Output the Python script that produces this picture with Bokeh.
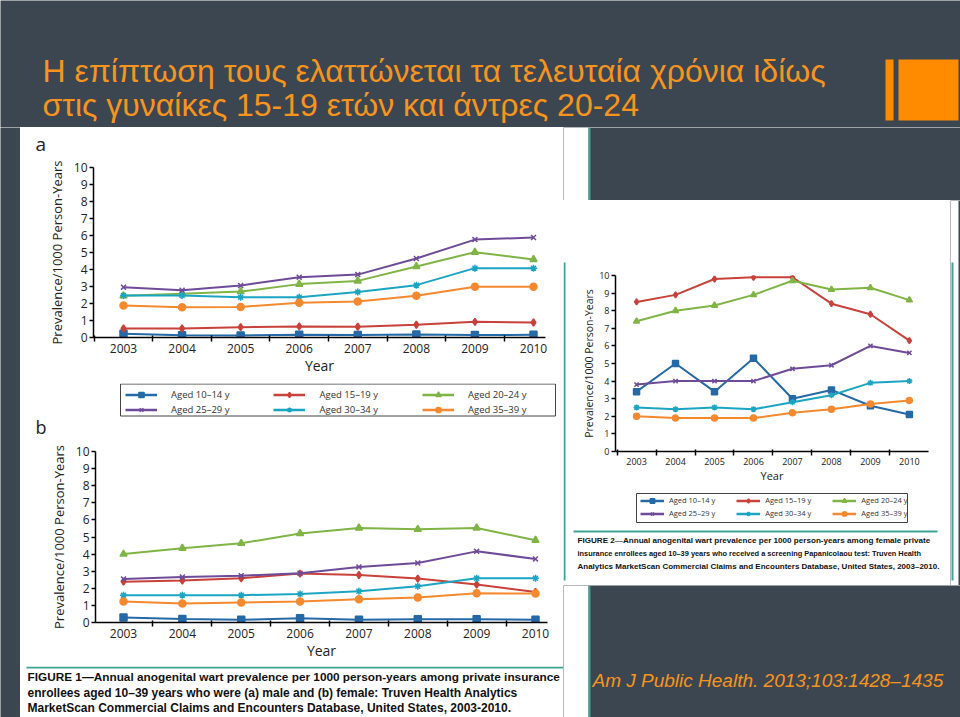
from bokeh.plotting import figure
from bokeh.layouts import row, column
from bokeh.models import FixedTicker, Legend, LegendItem, Range1d
from bokeh.core.properties import value
from bokeh.embed import file_html
from bokeh.resources import INLINE

# ---------------- data ----------------
years = [2003, 2004, 2005, 2006, 2007, 2008, 2009, 2010]
half_years = [2002.5, 2003.5, 2004.5, 2005.5, 2006.5, 2007.5, 2008.5, 2009.5, 2010.5]
y_ticks = [0, 1, 2, 3, 4, 5, 6, 7, 8, 9, 10]
groups = ["Aged 10–14 y", "Aged 15–19 y", "Aged 20–24 y",
          "Aged 25–29 y", "Aged 30–34 y", "Aged 35–39 y"]

# Figure 1a: males
male_10_14 = [0.22, 0.13, 0.12, 0.16, 0.14, 0.18, 0.14, 0.16]
male_15_19 = [0.53, 0.53, 0.61, 0.65, 0.63, 0.75, 0.92, 0.88]
male_20_24 = [2.45, 2.57, 2.70, 3.14, 3.33, 4.18, 5.02, 4.59]
male_25_29 = [2.96, 2.78, 3.06, 3.55, 3.70, 4.65, 5.76, 5.88]
male_30_34 = [2.47, 2.47, 2.37, 2.37, 2.67, 3.08, 4.08, 4.08]
male_35_39 = [1.88, 1.78, 1.80, 2.04, 2.12, 2.45, 2.98, 2.98]

# Figure 1b: females
female_10_14 = [0.29, 0.21, 0.16, 0.25, 0.16, 0.19, 0.19, 0.16]
female_15_19 = [2.39, 2.45, 2.59, 2.86, 2.78, 2.57, 2.22, 1.79]
female_20_24 = [4.00, 4.34, 4.63, 5.21, 5.53, 5.45, 5.53, 4.81]
female_25_29 = [2.55, 2.66, 2.74, 2.88, 3.25, 3.48, 4.16, 3.72]
female_30_34 = [1.60, 1.60, 1.60, 1.67, 1.83, 2.12, 2.59, 2.59]
female_35_39 = [1.23, 1.11, 1.17, 1.23, 1.36, 1.46, 1.71, 1.69]

# Figure 2: females with Pap test
pap_10_14 = [3.4, 5.0, 3.4, 5.3, 3.0, 3.5, 2.6, 2.1]
pap_15_19 = [8.5, 8.9, 9.8, 9.9, 9.9, 8.4, 7.8, 6.3]
pap_20_24 = [7.4, 8.0, 8.3, 8.9, 9.7, 9.2, 9.3, 8.6]
pap_25_29 = [3.8, 4.0, 4.0, 4.0, 4.7, 4.9, 6.0, 5.6]
pap_30_34 = [2.5, 2.4, 2.5, 2.4, 2.8, 3.2, 3.9, 4.0]
pap_35_39 = [2.0, 1.9, 1.9, 1.9, 2.2, 2.4, 2.7, 2.9]

title_lines = ["Η επίπτωση τους ελαττώνεται τα τελευταία χρόνια ιδίως",
               "στις γυναίκες 15-19 ετών και άντρες 20-24"]
caption1 = ["FIGURE 1—Annual anogenital wart prevalence per 1000 person-years among private insurance",
            "enrollees aged 10–39 years who were (a) male and (b) female: Truven Health Analytics",
            "MarketScan Commercial Claims and Encounters Database, United States, 2003-2010."]
caption2 = ["FIGURE 2—Annual anogenital wart prevalence per 1000 person-years among female private",
            "insurance enrollees aged 10–39 years who received a screening Papanicolaou test: Truven Health",
            "Analytics MarketScan Commercial Claims and Encounters Database, United States, 2003–2010."]
citation = "Am J Public Health. 2013;103:1428–1435"
panel_letters = ["a", "b"]

# ---------------- styles ----------------
DARK = "#3C4651"
ORANGE = "#FF8C00"
TITLE_ORANGE = "#F7941D"
TEAL = "#3FA394"
colors = ["#2569A6", "#C8413B", "#80B446", "#6E4B99", "#1BA5C3", "#F4892F"]
markers = ["square", "diamond", "triangle", "x", "asterisk", "circle"]
FONT = "Open Sans"
CAP_FONT = "Liberation Sans"

male = [male_10_14, male_15_19, male_20_24, male_25_29, male_30_34, male_35_39]
female = [female_10_14, female_15_19, female_20_24, female_25_29, female_30_34, female_35_39]
pap = [pap_10_14, pap_15_19, pap_20_24, pap_25_29, pap_30_34, pap_35_39]


def blank(w, h, bg):
    p = figure(width=w, height=h, x_range=Range1d(0, w), y_range=Range1d(h, 0),
               output_backend="svg", toolbar_location=None, min_border=0,
               x_axis_location=None, y_axis_location=None,
               background_fill_color=bg, border_fill_color=bg, outline_line_color=None)
    p.grid.visible = False
    return p


def chart(w, h, xr, borders, series, tick_px, label_px, year_px, msize, lw, ylab_standoff):
    p = figure(width=w, height=h, x_range=Range1d(*xr), y_range=Range1d(0, 10),
               output_backend="svg", toolbar_location=None,
               min_border_left=borders[0], min_border_right=borders[1],
               min_border_top=borders[2], min_border_bottom=borders[3],
               background_fill_color="white", border_fill_color="white",
               outline_line_color=None)
    p.grid.visible = False
    p.xaxis.ticker = FixedTicker(ticks=years, minor_ticks=half_years)
    p.xaxis.major_tick_in = 0
    p.xaxis.major_tick_out = 0
    p.xaxis.minor_tick_in = 2
    p.xaxis.minor_tick_out = 4
    p.xaxis.minor_tick_line_color = "black"
    p.xaxis.minor_tick_line_width = 1.5
    p.yaxis.ticker = FixedTicker(ticks=y_ticks)
    p.yaxis.major_tick_in = 0
    p.yaxis.major_tick_out = 4
    p.yaxis.minor_tick_line_color = None
    p.axis.axis_line_color = "black"
    p.axis.axis_line_width = 1.5
    p.axis.major_tick_line_width = 1.5
    p.axis.major_label_text_font = FONT
    p.axis.major_label_text_font_size = f"{tick_px}px"
    p.axis.major_label_text_color = "#222222"
    p.axis.axis_label_text_font = FONT
    p.axis.axis_label_text_font_style = "normal"
    p.axis.axis_label_text_color = "#222222"
    p.xaxis.axis_label = "Year"
    p.xaxis.axis_label_text_font_size = f"{year_px}px"
    p.xaxis.major_label_standoff = 2
    p.xaxis.axis_label_standoff = 0
    p.yaxis.axis_label = "Prevalence/1000 Person-Years"
    p.yaxis.axis_label_text_font_size = f"{label_px}px"
    p.yaxis.major_label_standoff = 2
    p.yaxis.axis_label_standoff = ylab_standoff
    for vals, col, mk in zip(series, colors, markers):
        p.line(years, vals, line_color=col, line_width=lw)
        p.scatter(years, vals, marker=mk, size=msize, fill_color=col,
                  line_color=col, line_width=1.5)
    return p


def legend_fig(w, h, box, rows_y, x0, gw, lh, sp, st, font_px, msize, series):
    # the series are plotted far outside this strip's visible range; only their
    # legend swatches show
    p = blank(w, h, "white")
    p.quad(left=[box[0]], right=[box[1]], top=[box[2]], bottom=[box[3]],
           fill_color=None, line_color="#444444", line_width=1)
    rends = []
    for vals, col, mk in zip(series, colors, markers):
        ln = p.line(years, vals, line_color=col, line_width=2.5)
        sc = p.scatter(years, vals, marker=mk, size=msize, fill_color=col,
                       line_color=col, line_width=1.5)
        rends.append([ln, sc])
    for r, yb in enumerate(rows_y):
        items = [LegendItem(label=groups[3 * r + i], renderers=rends[3 * r + i])
                 for i in range(3)]
        leg = Legend(items=items, orientation="horizontal", location=(x0, yb),
                     label_text_font=FONT, label_text_font_size=f"{font_px}px",
                     label_text_color="#333333", glyph_width=gw, glyph_height=lh,
                     label_height=lh, label_standoff=st,
                     spacing=sp, padding=0, margin=0, border_line_color=None,
                     background_fill_alpha=0)
        p.add_layout(leg, "center")
    return p


# ---------------- title band ----------------
head = blank(960, 127, DARK)
head.text(x=[42, 42], y=[70, 104], text=title_lines, text_font=value("Liberation Sans"),
          text_font_size="32px", text_color=TITLE_ORANGE, text_baseline="middle",
          text_align="left")
head.quad(left=[885, 898], right=[893, 958], top=[59, 59], bottom=[120, 120],
          fill_color=ORANGE, line_color=None)

# ---------------- left panel ----------------
left_strip = blank(20, 590, DARK)

ahead = blank(543, 28, "white")
ahead.text(x=[15], y=[16], text=panel_letters[:1], text_font=value(FONT),
           text_font_size="19px", text_color="#222222", text_baseline="middle",
           text_align="left")

fa = chart(543, 228, (2002.488, 2010.205), (73, 18, 12, 46), male, 12, 13, 14, 7, 2, 5)

lega = legend_fig(543, 57, (100, 535, 0.5, 32.5), [39.5, 24.5], 105, 32, 13, 44, 14,
                  9.5, 7, male)
lega.text(x=[15], y=[55.5], text=panel_letters[1:], text_font=value(FONT),
          text_font_size="18px", text_color="#222222", text_baseline="bottom",
          text_align="left")

fb = chart(543, 226, (2002.524, 2010.204), (75, 16, 11, 44), female, 12, 13, 14, 7, 2, 5)

cap1 = blank(543, 51, "white")
cap1.segment(x0=[6], y0=[1], x1=[543], y1=[1], line_color=TEAL, line_width=2)
cap1.text(x=[7], y=[10], text=caption1[:1], text_font=value(CAP_FONT),
          text_font_style="bold", text_font_size="11.8px", text_color="#111111",
          text_baseline="middle", text_align="left")
cap1.text(x=[7, 7], y=[26, 41], text=caption1[1:], text_font=value(CAP_FONT),
          text_font_style="bold", text_font_size="12px", text_color="#111111",
          text_baseline="middle", text_align="left")

left_col = column(row(ahead), row(fa), row(lega), row(fb), row(cap1), spacing=0)

# ---------------- right panel ----------------
top_sp = blank(397, 73, DARK)
top_sp.quad(left=[0], right=[25], top=[0], bottom=[73], fill_color="white", line_color=None)
top_sp.quad(left=[25], right=[27], top=[0], bottom=[73], fill_color=TEAL, line_color=None)

f2 = chart(382, 288, (2002.46, 2010.49), (47, 22, 75, 37), pap, 9, 10.5, 11, 6, 2, 0)
leg2 = legend_fig(382, 39, (68, 339, 5, 34), [21.5, 8.5], 72, 24, 11, 21, 5, 7.5, 6, pap)
cap2 = blank(382, 58, "white")
cap2.segment(x0=[5], y0=[4], x1=[369], y1=[4], line_color=TEAL, line_width=2)
cap2.text(x=[9], y=[13], text=caption2[:1], text_font=value(CAP_FONT),
          text_font_style="bold", text_font_size="8.1px", text_color="#111111",
          text_baseline="middle", text_align="left")
cap2.text(x=[9], y=[26], text=caption2[1:2], text_font=value(CAP_FONT),
          text_font_style="bold", text_font_size="7.4px", text_color="#111111",
          text_baseline="middle", text_align="left")
cap2.text(x=[9], y=[39], text=caption2[2:], text_font=value(CAP_FONT),
          text_font_style="bold", text_font_size="8px", text_color="#111111",
          text_baseline="middle", text_align="left")

l2 = blank(5, 385, "white")
l2.quad(left=[0], right=[2], top=[62], bottom=[380], fill_color=TEAL, line_color=None)
r2 = blank(10, 385, DARK)
r2.quad(left=[0], right=[8], top=[0], bottom=[385], fill_color="white", line_color=None)
r2.quad(left=[1], right=[3], top=[62], bottom=[380], fill_color=TEAL, line_color=None)

mid = row(row(l2), column(row(f2), row(leg2), row(cap2), spacing=0), row(r2), spacing=0)

bot = blank(397, 132, DARK)
bot.quad(left=[0], right=[25], top=[0], bottom=[132], fill_color="white", line_color=None)
bot.quad(left=[25], right=[27], top=[0], bottom=[132], fill_color=TEAL, line_color=None)
bot.text(x=[29], y=[95], text=[citation], text_font=value("Liberation Sans"),
         text_font_style="italic", text_font_size="19px", text_color=TITLE_ORANGE,
         text_baseline="middle", text_align="left")

right_col = column(row(top_sp), mid, row(bot), spacing=0)

p = column(head, row(left_strip, left_col, right_col, spacing=0), spacing=0)

open("out.html", "w").write(file_html(p, INLINE))
